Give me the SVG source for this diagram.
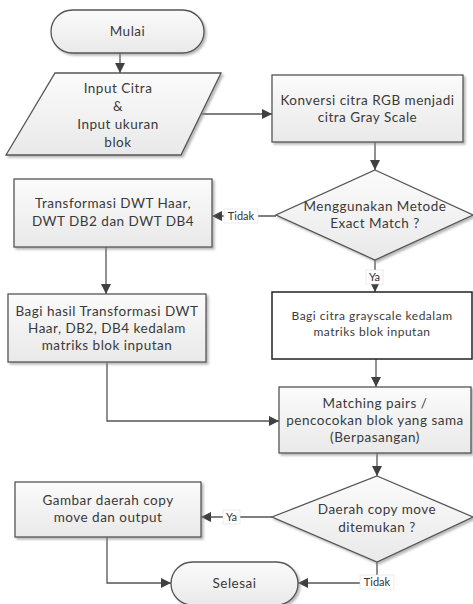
<svg xmlns="http://www.w3.org/2000/svg" width="473" height="604" viewBox="0 0 473 604">
<defs>
<linearGradient id="g" x1="0" y1="0" x2="0" y2="1">
<stop offset="0" stop-color="#fbfbfb"/>
<stop offset="1" stop-color="#e9e9e9"/>
</linearGradient>
<filter id="sh" x="-10%" y="-10%" width="130%" height="140%">
<feDropShadow dx="2" dy="2" stdDeviation="1" flood-color="#888" flood-opacity="0.6"/>
</filter>
<marker id="ar" viewBox="0 0 10 10" refX="10" refY="5" markerWidth="10" markerHeight="10" markerUnits="userSpaceOnUse" orient="auto">
<path d="M0,0 L10,5 L0,10 Z" fill="#404040"/>
</marker>
</defs>
<style>
.n{fill:url(#g);stroke:#555;stroke-width:1.3;filter:url(#sh)}
.t{font-family:Lato,"Open Sans",sans-serif;font-size:13.5px;letter-spacing:0.5px;fill:#3a3a3a;text-anchor:middle}
.s{font-size:12px}
.c{fill:none;stroke:#555;stroke-width:1.3}
.lb{font-family:Lato,"Open Sans",sans-serif;font-size:11px;fill:#333;text-anchor:middle}
.lbg{fill:#fff;stroke:#ddd;stroke-width:0.6}
</style>
<g id="connectors">
<path class="c" d="M120,53 L120,73" marker-end="url(#ar)"/>
<path class="c" d="M202,114 L272,114" marker-end="url(#ar)"/>
<path class="c" d="M375,142 L375,170" marker-end="url(#ar)"/>
<path class="c" d="M276,216 L212,216" marker-end="url(#ar)"/>
<path class="c" d="M106,247 L106,294" marker-end="url(#ar)"/>
<path class="c" d="M375,260 L375,292" marker-end="url(#ar)"/>
<path class="c" d="M376,359 L376,387" marker-end="url(#ar)"/>
<path class="c" d="M107,362 L107,421 L279,421" marker-end="url(#ar)"/>
<path class="c" d="M377,453 L377,476" marker-end="url(#ar)"/>
<path class="c" d="M272,517 L201,517" marker-end="url(#ar)"/>
<path class="c" d="M377,562 L377,583 L298,583" marker-end="url(#ar)"/>
<path class="c" d="M107,537 L107,583 L171,583" marker-end="url(#ar)"/>
<rect class="lbg" x="224" y="209" width="34" height="14"/>
<text class="lb" x="241" y="220">Tidak</text>
<rect class="lbg" x="366" y="270" width="17" height="14"/>
<text class="lb" x="374.5" y="281">Ya</text>
<rect class="lbg" x="223" y="510" width="17" height="14"/>
<text class="lb" x="231.5" y="521">Ya</text>
<rect class="lbg" x="360" y="575" width="34" height="14"/>
<text class="lb" x="377" y="586">Tidak</text>
</g>
<g id="mulai">
<rect class="n" x="51" y="10" width="153" height="43" rx="21.5"/>
<text class="t" x="127.5" y="36">Mulai</text>
</g>
<g id="input">
<polygon class="n" points="55,73 221,73 181,155 6,155"/>
<text class="t" x="118" y="93">Input Citra</text>
<text class="t" x="118" y="111">&amp;</text>
<text class="t" x="118" y="129">Input ukuran</text>
<text class="t" x="118" y="147">blok</text>
</g>
<g id="konversi">
<rect class="n" x="272" y="75" width="191" height="67"/>
<text class="t" x="367.5" y="105">Konversi citra RGB menjadi</text>
<text class="t" x="367.5" y="122">citra Gray Scale</text>
</g>
<g id="exact">
<polygon class="n" points="375,170 473,215 375,260 276,215"/>
<text class="t" x="375" y="211">Menggunakan Metode</text>
<text class="t" x="375" y="228">Exact Match ?</text>
</g>
<g id="transformasi">
<rect class="n" x="14" y="179" width="198" height="68"/>
<text class="t" x="113" y="208">Transformasi DWT Haar,</text>
<text class="t" x="113" y="226">DWT DB2 dan DWT DB4</text>
</g>
<g id="bagihasil">
<rect class="n" x="8" y="294" width="198" height="68"/>
<text class="t" x="107" y="316">Bagi hasil Transformasi DWT</text>
<text class="t" x="107" y="333">Haar, DB2, DB4 kedalam</text>
<text class="t" x="107" y="350">matriks blok inputan</text>
</g>
<g id="bagicitra">
<rect x="272" y="292" width="200" height="67" fill="#fff" stroke="#222" stroke-width="1.5"/>
<text class="t s" x="372" y="320">Bagi citra grayscale kedalam</text>
<text class="t s" x="372" y="336">matriks blok inputan</text>
</g>
<g id="matching">
<rect class="n" x="279" y="387" width="192" height="66"/>
<text class="t" x="375" y="408">Matching pairs /</text>
<text class="t" x="375" y="425">pencocokan blok yang sama</text>
<text class="t" x="375" y="442">(Berpasangan)</text>
</g>
<g id="daerah">
<polygon class="n" points="377,476 473,517 377,562 272,517"/>
<text class="t" x="377" y="514">Daerah copy move</text>
<text class="t" x="377" y="532">ditemukan ?</text>
</g>
<g id="gambar">
<rect class="n" x="15" y="482" width="186" height="55"/>
<text class="t" x="108" y="505">Gambar daerah copy</text>
<text class="t" x="108" y="522">move dan output</text>
</g>
<g id="selesai">
<rect class="n" x="171" y="562" width="127" height="43" rx="21.5"/>
<text class="t" x="234.5" y="588">Selesai</text>
</g>
</svg>
